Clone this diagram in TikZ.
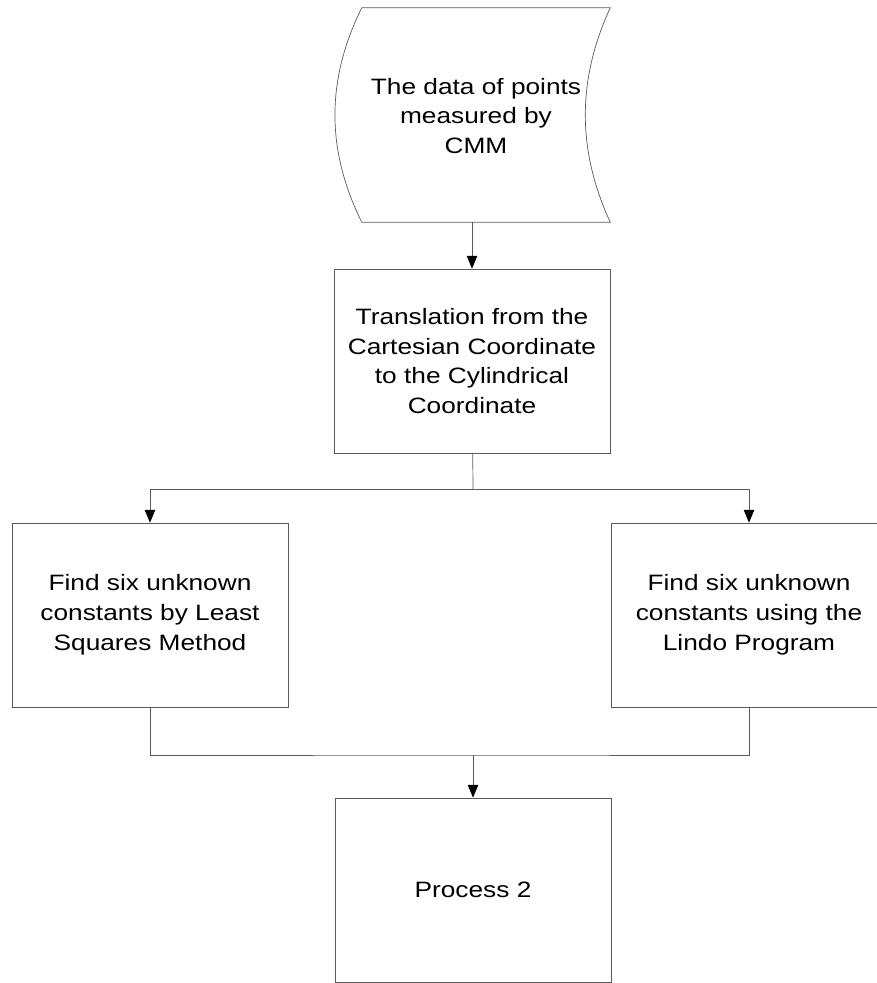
\documentclass[tikz,border=0pt]{standalone}
\usepackage{fontspec}
\setmainfont{Liberation Sans}[FakeStretch=1.18]
\usepackage{tikz}
\usetikzlibrary{positioning, arrows.meta, shapes}
\definecolor{lineGray}{HTML}{5A5A5A}
\tikzstyle{arrow} = [draw=lineGray, line width=0.6pt, -{Triangle[length=11pt,width=9pt,color=black]}]

\begin{document}
\begin{tikzpicture}[x=0.03cm, y=-0.03cm]
        \tikzstyle{every node}=[font=\fontsize{19}{25.5}\selectfont, align=center]
        \tikzstyle{process} = [rectangle, draw=lineGray, line width=0.6pt, minimum width=8.28cm, minimum height=5.52cm]
        \tikzstyle{hidden} = [draw=none, minimum width=7.44cm, minimum height=6.42cm]
        \tikzstyle{link} = [draw=lineGray, line width=0.6pt]

        \clip (0,0) rectangle (877,983);

        % stored data shape
        \node[hidden](data) at (486,115) {};
        \draw[link] (data.north west) .. controls (326,80) and (326,150) .. (data.south west)
                -- (data.south east) .. controls (577,150) and (577,80) .. (data.north east) -- cycle;
        \node(datatext) at (476,116) {The data of points\\measured by\\CMM};

        \node[process](trans) at (472,361) {Translation from the\\Cartesian Coordinate\\to the Cylindrical\\Coordinate};
        \node[process](lsq) at (150,615) {Find six unknown\\constants by Least\\Squares Method};
        \node[process](lindo) at (749,615) {Find six unknown\\constants using the\\Lindo Program};
        \node[process](proc) at (473,890) {Process 2};

        % branch and merge points
        \coordinate(split) at (473,489);
        \coordinate(join) at (473,755);

        \draw[arrow] (data.south -| trans) -- (trans);
        \draw[link] (trans) -- (split);
        \draw[arrow] (split) -| (lsq);
        \draw[arrow] (split) -| (lindo);

        \draw[link] (lsq.south) |- (join) -| (lindo.south);
        \draw[arrow] (join) -- (proc);
\end{tikzpicture}
\end{document}
